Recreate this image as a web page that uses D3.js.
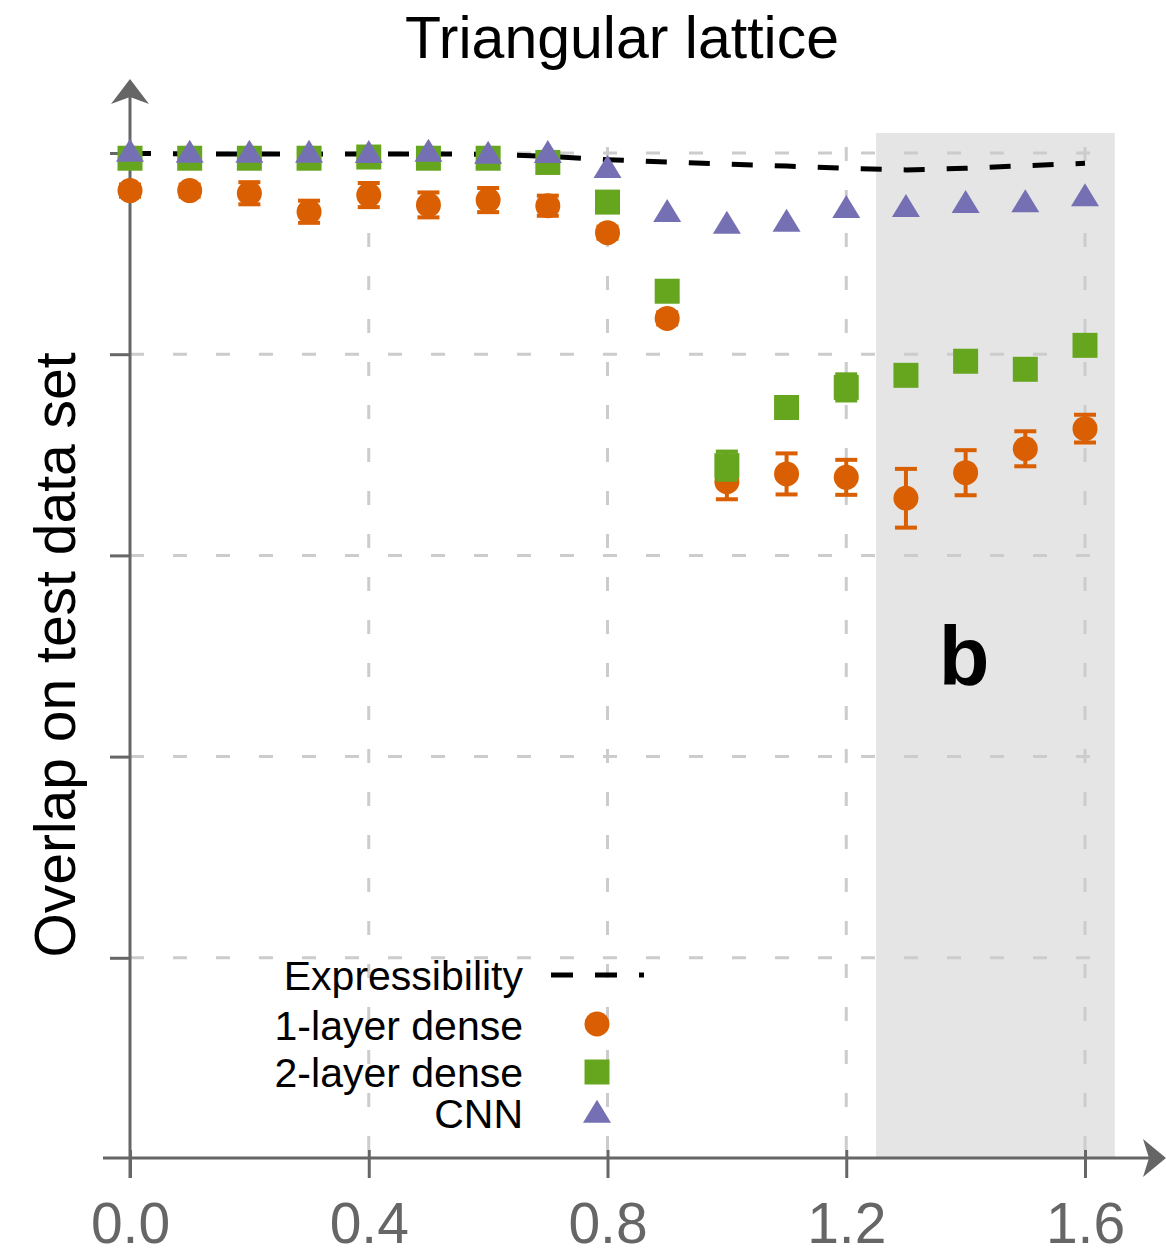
<!DOCTYPE html>
<html>
<head>
<meta charset="utf-8">
<script src="https://cdn.jsdelivr.net/npm/d3@7/dist/d3.min.js"></script>
<style>
  html, body { margin: 0; padding: 0; background: #fff; }
  svg { display: block; font-family: "Liberation Sans", Arial, Helvetica, sans-serif; }
</style>
</head>
<body>
<svg id="chart" width="1166" height="1253"></svg>
<script>
// Disorder strength (x) for every measured point
const strengths = [0.0, 0.1, 0.2, 0.3, 0.4, 0.5, 0.6, 0.7, 0.8, 0.9, 1.0, 1.1, 1.2, 1.3, 1.4, 1.5, 1.6];

// Expressibility bound (dashed curve)
const expressibility = [0.9998, 0.9995, 0.9995, 0.9995, 0.9995, 0.9995, 0.9994, 0.9983, 0.9967, 0.9955,
                        0.9945, 0.9935, 0.9924, 0.9916, 0.9924, 0.9937, 0.9949];

// 1-layer dense network: mean overlap and error
const dense1 = [0.9813, 0.9813, 0.9800, 0.9708, 0.9791, 0.9742, 0.9766, 0.9738, 0.9604, 0.9178,
                0.8366, 0.8405, 0.8388, 0.8284, 0.8411, 0.8530, 0.8630];
const dense1Err = [0.003, 0.003, 0.0055, 0.0055, 0.006, 0.0062, 0.006, 0.005, 0.003, 0.003,
                   0.0087, 0.0102, 0.0087, 0.0146, 0.0112, 0.0087, 0.0069];

// 2-layer dense network
const dense2 = [0.9974, 0.9974, 0.9974, 0.9974, 0.9980, 0.9974, 0.9974, 0.9953, 0.9756, 0.9313,
                0.8446, 0.8735, 0.8835, 0.8895, 0.8965, 0.8925, 0.9044];
const dense2Err = [0.002, 0.002, 0.002, 0.002, 0.002, 0.002, 0.002, 0.002, 0.002, 0.002,
                   0.007, 0.002, 0.0065, 0.002, 0.002, 0.002, 0.002];

// Convolutional network
const cnn = [0.9994, 0.9990, 0.9990, 0.9990, 0.9989, 0.9994, 0.9985, 0.9989, 0.9914, 0.9695,
             0.9637, 0.9647, 0.9715, 0.9720, 0.9740, 0.9744, 0.9773];

const xTicks = [0.0, 0.4, 0.8, 1.2, 1.6];
const yTicks = [0.6, 0.7, 0.8, 0.9, 1.0];
const shadedRange = [1.25, 1.65];

const legendLabels = ["Expressibility", "1-layer dense", "2-layer dense", "CNN"];
const colors = { dense1: "#d95f02", dense2: "#66a61e", cnn: "#7570b3" };
const axisColor = "#666666";
const gridColor = "#cccccc";

const svg = d3.select("#chart");

const x = d3.scaleLinear().domain([0, 1.6]).range([130, 1085]);
const y = d3.scaleLinear().domain([0.5, 1.0]).range([1159, 153]);

// Shaded region
svg.append("rect")
  .attr("x", x(shadedRange[0]))
  .attr("y", 133)
  .attr("width", x(shadedRange[1]) - x(shadedRange[0]))
  .attr("height", y(0.5) - 133)
  .attr("fill", "#e5e5e5");

// Grid
const grid = svg.append("g").attr("stroke", gridColor).attr("stroke-width", 3)
  .attr("stroke-dasharray", "14,29");
grid.selectAll("line.h").data(yTicks).join("line")
  .attr("class", "h")
  .attr("x1", x(0)).attr("x2", x(shadedRange[1]))
  .attr("y1", d => y(d)).attr("y2", d => y(d));
grid.selectAll("line.v").data(xTicks.slice(1)).join("line")
  .attr("class", "v")
  .attr("x1", d => x(d)).attr("x2", d => x(d))
  .attr("y1", y(0.5) - 9).attr("y2", 133);

// Axes (ticks and labels from d3 axes)
const xAxis = svg.append("g")
  .attr("transform", `translate(0,${y(0.5) - 1})`)
  .call(d3.axisBottom(x).tickValues(xTicks).tickFormat(d3.format(".1f")).tickSizeOuter(0).tickSizeInner(20));
xAxis.select(".domain").remove();
xAxis.selectAll(".tick line").attr("stroke", axisColor).attr("stroke-width", 3).attr("y1", -8).attr("y2", 20);
xAxis.selectAll(".tick text")
  .attr("fill", axisColor).attr("font-size", 57)
  .attr("font-family", "'Liberation Sans', Arial, sans-serif")
  .attr("y", 85).attr("dy", 0);

const yAxis = svg.append("g")
  .attr("transform", `translate(${x(0)},0)`)
  .call(d3.axisLeft(y).tickValues(yTicks).tickFormat("").tickSizeOuter(0).tickSizeInner(20));
yAxis.select(".domain").remove();
yAxis.selectAll(".tick line").attr("stroke", axisColor).attr("stroke-width", 3);

// Axis lines with arrow heads
const axes = svg.append("g");
axes.append("line").attr("x1", 103).attr("x2", 1150).attr("y1", y(0.5) - 1).attr("y2", y(0.5) - 1)
  .attr("stroke", axisColor).attr("stroke-width", 3);
axes.append("line").attr("x1", x(0)).attr("x2", x(0)).attr("y1", y(0.5) + 19).attr("y2", 95)
  .attr("stroke", axisColor).attr("stroke-width", 3);
const ax0 = x(0), ay0 = y(0.5) - 1;
axes.append("path")
  .attr("d", `M${ax0},79 L${ax0 + 19},104 L${ax0},97 L${ax0 - 19},104 Z`)
  .attr("fill", axisColor);
axes.append("path")
  .attr("d", `M1166,${ay0} L1143,${ay0 - 19} L1149,${ay0} L1143,${ay0 + 19} Z`)
  .attr("fill", axisColor);

// Expressibility curve
const line = d3.line().x((d, i) => x(strengths[i])).y(d => y(d));
svg.append("path")
  .datum(expressibility)
  .attr("d", line)
  .attr("fill", "none")
  .attr("stroke", "#000")
  .attr("stroke-width", 5)
  .attr("stroke-dasharray", "21,22");

// Marker shapes
function circlePath(r) { return `M${-r},0A${r},${r} 0 1,0 ${r},0A${r},${r} 0 1,0 ${-r},0Z`; }
function squarePath(s) { const h = s / 2; return `M${-h},${-h}H${h}V${h}H${-h}Z`; }
function trianglePath(w, h) { return `M0,${-2 * h / 3}L${w / 2},${h / 3}L${-w / 2},${h / 3}Z`; }

function drawSeries(values, errors, color, shape) {
  const g = svg.append("g");
  if (errors) {
    const eb = g.append("g").attr("stroke", color).attr("stroke-width", 4);
    values.forEach((v, i) => {
      const cx = x(strengths[i]), top = y(v + errors[i]), bot = y(v - errors[i]);
      eb.append("line").attr("x1", cx).attr("x2", cx).attr("y1", top).attr("y2", bot);
      eb.append("line").attr("x1", cx - 11).attr("x2", cx + 11).attr("y1", top).attr("y2", top);
      eb.append("line").attr("x1", cx - 11).attr("x2", cx + 11).attr("y1", bot).attr("y2", bot);
    });
  }
  g.selectAll("path.m").data(values).join("path")
    .attr("class", "m")
    .attr("d", shape)
    .attr("transform", (d, i) => `translate(${x(strengths[i])},${y(d)})`)
    .attr("fill", color);
}

drawSeries(dense1, dense1Err, colors.dense1, circlePath(12.5));
drawSeries(dense2, dense2Err, colors.dense2, squarePath(25));
drawSeries(cnn, null, colors.cnn, trianglePath(28, 23));

// Panel letter
svg.append("text")
  .attr("x", 964).attr("y", 685)
  .attr("text-anchor", "middle")
  .attr("font-size", 83).attr("font-weight", "bold")
  .attr("fill", "#000")
  .text("b");

// Title
svg.append("text")
  .attr("x", 622).attr("y", 58)
  .attr("text-anchor", "middle")
  .attr("font-size", 59)
  .attr("fill", "#000")
  .text("Triangular lattice");

// Y axis label
svg.append("text")
  .attr("transform", "translate(75,655) rotate(-90)")
  .attr("text-anchor", "middle")
  .attr("font-size", 57)
  .attr("fill", "#000")
  .text("Overlap on test data set");

// Legend
const legend = svg.append("g");
const legendBaselines = [990, 1040, 1087, 1128];
const legendMarkY = [975, 1024, 1072, 1115];
legend.selectAll("text").data(legendLabels).join("text")
  .attr("x", 523).attr("y", (d, i) => legendBaselines[i])
  .attr("text-anchor", "end")
  .attr("font-size", 41)
  .attr("fill", "#000")
  .text(d => d);
legend.append("line")
  .attr("x1", 551).attr("x2", 644).attr("y1", legendMarkY[0]).attr("y2", legendMarkY[0])
  .attr("stroke", "#000").attr("stroke-width", 5).attr("stroke-dasharray", "22,22");
legend.append("path").attr("d", circlePath(12.5))
  .attr("transform", `translate(597,${legendMarkY[1]})`).attr("fill", colors.dense1);
legend.append("path").attr("d", squarePath(25))
  .attr("transform", `translate(597,${legendMarkY[2]})`).attr("fill", colors.dense2);
legend.append("path").attr("d", trianglePath(28, 23))
  .attr("transform", `translate(597,${legendMarkY[3]})`).attr("fill", colors.cnn);
</script>
</body>
</html>
